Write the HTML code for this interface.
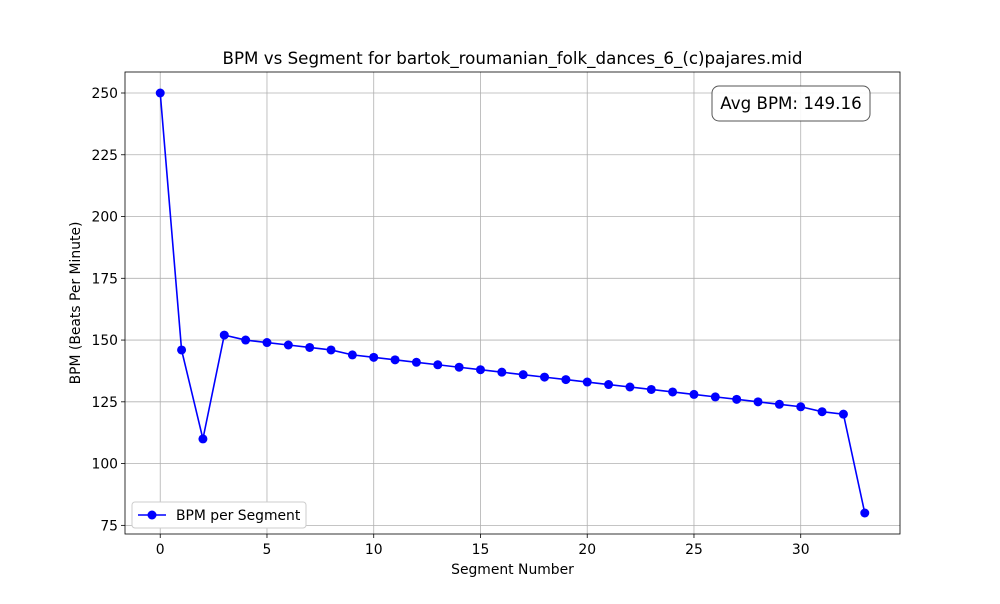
<!DOCTYPE html>
<html><head><meta charset="utf-8"><style>
body{margin:0;background:#fff;font-family:"DejaVu Sans","Liberation Sans",sans-serif;}
svg text{font-family:"DejaVu Sans","Liberation Sans",sans-serif;}
</style></head><body>
<svg id="chart" width="1000" height="600" xmlns="http://www.w3.org/2000/svg"></svg>
<script>
const segments = [0,1,2,3,4,5,6,7,8,9,10,11,12,13,14,15,16,17,18,19,20,21,22,23,24,25,26,27,28,29,30,31,32,33];
const bpmValues = [250,146,110,152,150,149,148,147,146,144,143,142,141,140,139,138,137,136,135,134,133,132,131,130,129,128,127,126,125,124,123,121,120,80];
const xTicks = [0,5,10,15,20,25,30];
const yTicks = [75,100,125,150,175,200,225,250];
const avgLabel = "Avg BPM: 149.16";

const svg = document.getElementById('chart');
const NS = 'http://www.w3.org/2000/svg';
const L=125,R=900,T=72,B=534;
const xMin=-1.65,xMax=34.65,yMin=71.5,yMax=258.5;
const sx=v=>L+(v-xMin)/(xMax-xMin)*(R-L);
const sy=v=>B-(v-yMin)/(yMax-yMin)*(B-T);
function mk(tag,attrs,parent){const e=document.createElementNS(NS,tag);for(const k in attrs)e.setAttribute(k,attrs[k]);(parent||svg).appendChild(e);return e;}

const grid=mk('g',{});


xTicks.forEach(t=>{
  const l=mk('line',{x1:sx(t),x2:sx(t),y1:T,y2:B,stroke:'#b0b0b0','stroke-width':0.8},grid);
  
  
  mk('line',{x1:sx(t),x2:sx(t),y1:B,y2:B+4,stroke:'#000','stroke-width':0.8});
  const tx=mk('text',{x:sx(t),y:B+20,'text-anchor':'middle','font-size':13.9,fill:'#000'});
  tx.textContent=t;
  
  
});
yTicks.forEach(t=>{
  const l=mk('line',{x1:L,x2:R,y1:sy(t),y2:sy(t),stroke:'#b0b0b0','stroke-width':0.8},grid);
  
  
  mk('line',{x1:L-4,x2:L,y1:sy(t),y2:sy(t),stroke:'#000','stroke-width':0.8});
  const tx=mk('text',{x:L-7,y:sy(t)+5,'text-anchor':'end','font-size':13.9,fill:'#000'});
  tx.textContent=t;
  
  
});

const pts=segments.map((s,i)=>sx(s)+','+sy(bpmValues[i])).join(' ');
const line=mk('polyline',{points:pts,fill:'none',stroke:'#0000ff','stroke-width':1.6});


segments.forEach((s,i)=>{
  const c=mk('circle',{cx:sx(s),cy:sy(bpmValues[i]),r:4.5,fill:'#0000ff'});
  
  
});

const frame=mk('rect',{x:L,y:T,width:R-L,height:B-T,fill:'none',stroke:'#000','stroke-width':0.8});



const title=mk('text',{x:(L+R)/2,y:64,'text-anchor':'middle','font-size':16.7,fill:'#000'});
title.textContent='BPM vs Segment for bartok_roumanian_folk_dances_6_(c)pajares.mid';


const xt=mk('text',{x:(L+R)/2,y:574,'text-anchor':'middle','font-size':13.9,fill:'#000'});
xt.textContent='Segment Number';


const yt=mk('text',{x:0,y:0,'text-anchor':'middle','font-size':13.9,fill:'#000',transform:'translate(80,303) rotate(-90)'});
yt.textContent='BPM (Beats Per Minute)';



const box=mk('rect',{x:712,y:86,width:158,height:35,rx:7,fill:'#fff',stroke:'#444','stroke-width':1,opacity:0.9});


const at=mk('text',{x:791,y:109,'text-anchor':'middle','font-size':16.7,fill:'#000'});
at.textContent=avgLabel;



const lg=mk('g',{});


mk('rect',{x:132,y:502,width:174,height:26,rx:3,fill:'#fff',stroke:'#ccc','stroke-width':1},lg);
mk('line',{x1:138,x2:166,y1:515,y2:515,stroke:'#0000ff','stroke-width':1.6},lg);
mk('circle',{cx:152,cy:515,r:4.5,fill:'#0000ff'},lg);
const lt=mk('text',{x:176,y:520,'font-size':13.9,fill:'#000'},lg);
lt.textContent='BPM per Segment';


</script>
</body></html>
